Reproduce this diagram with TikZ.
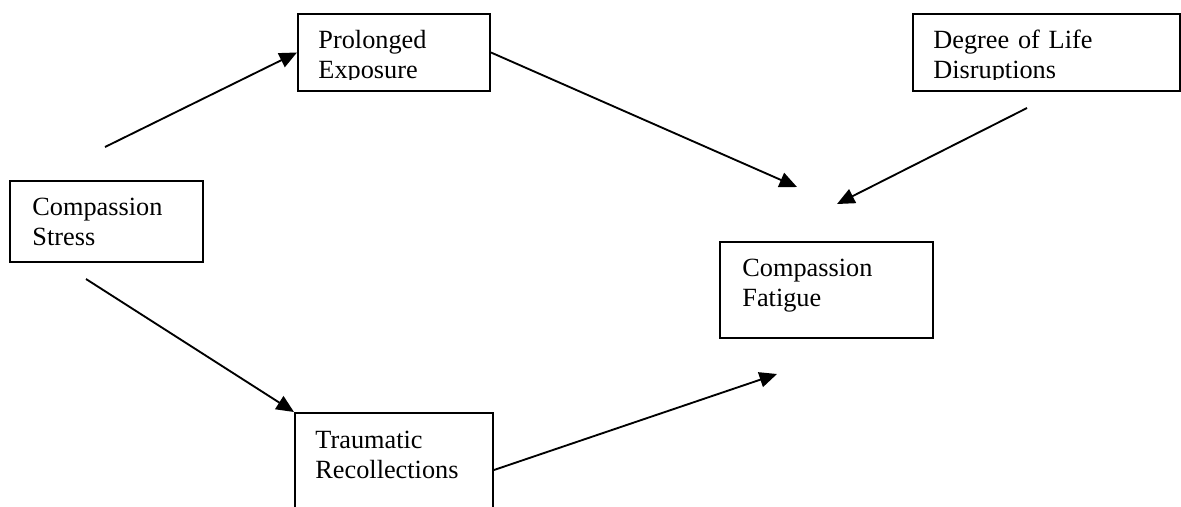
\documentclass[tikz,border=0pt]{standalone}
\usepackage{fontspec}
\setmainfont{Liberation Serif}
\usetikzlibrary{arrows.meta}
\def\px{0.4566pt}
\tikzset{
    factor/.style={draw, line width=0.9pt, inner sep=0pt, anchor=north west},
    caption/.style={anchor=base west, inner sep=0pt, text width=120pt, align=left,
        font=\fontsize{12pt}{13.7pt}\selectfont},
    link/.style={line width=0.85pt, -{Triangle[length=8pt, width=7pt]}}
}

\begin{document}
\begin{tikzpicture}[x=\px, y=-\px]
    \path[use as bounding box] (0,0) rectangle (1181,506);
    \clip (0,0) rectangle (1181,506);

    % Cadres
    \node[factor, minimum width=193*\px, minimum height=81*\px] (cs) at (9,180) {};
    \node[factor, minimum width=192*\px, minimum height=77*\px] (pe) at (297,13) {};
    \node[factor, minimum width=198*\px, minimum height=114*\px] (tr) at (294,412) {};
    \node[factor, minimum width=267*\px, minimum height=77*\px] (dl) at (912,13) {};
    \node[factor, minimum width=213*\px, minimum height=96*\px] (cf) at (719,241) {};

    % Textes
    \node[caption] (cs-t) at ([shift={(23,35)}]cs.north west) {Compassion\\Stress};
    \node[caption] (tr-t) at ([shift={(21,36)}]tr.north west) {Traumatic\\Recollections};
    \node[caption] (cf-t) at ([shift={(23,35)}]cf.north west) {Compassion\\Fatigue};
    \begin{scope}
        \clip (pe.north west) rectangle ([shift={(0,-12)}]pe.south east);
        \node[caption] (pe-t) at ([shift={(21,35)}]pe.north west) {Prolonged\\Exposure};
    \end{scope}
    \begin{scope}
        \clip (dl.north west) rectangle ([shift={(0,-12)}]dl.south east);
        \node[caption] (dl-t) at ([shift={(21,35)}]dl.north west) {Degree of Life\\Disruptions};
    \end{scope}

    % Flèches
    \coordinate (cs-up) at (105,147);
    \coordinate (cs-down) at (86,279);
    \coordinate (dl-foot) at (1027,108);
    \coordinate (cf-a) at (797,187);
    \coordinate (cf-b) at (837,204);
    \coordinate (cf-c) at (777,374);

    \draw[link] (cs-up) -- (pe.west);
    \draw[link] (pe.east) -- (cf-a);
    \draw[link] (dl-foot) -- (cf-b);
    \draw[link] (cs-down) -- (tr.north west);
    \draw[link] (tr.east) -- (cf-c);
\end{tikzpicture}
\end{document}
